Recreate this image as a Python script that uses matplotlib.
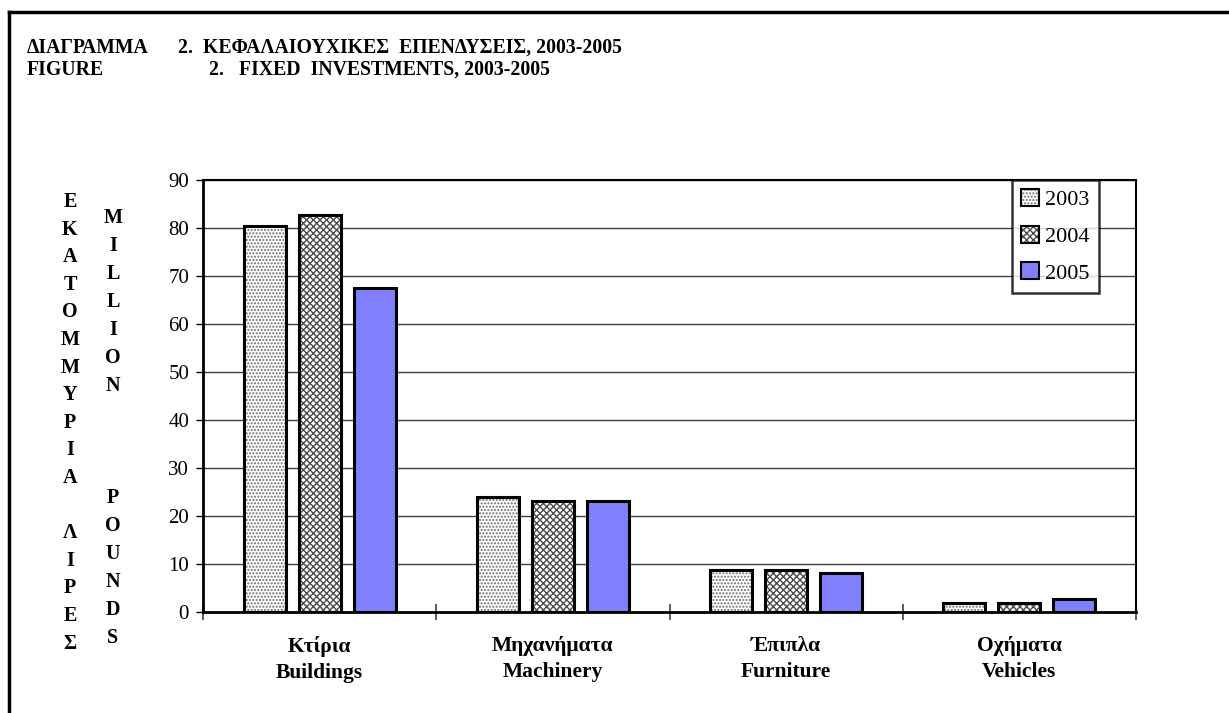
import matplotlib
matplotlib.use("Agg")
import matplotlib.pyplot as plt
import numpy as np
from matplotlib.patches import Patch
from matplotlib.lines import Line2D
from matplotlib.legend_handler import HandlerTuple

categories_gr = ["Κτίρια", "Μηχανήματα", "Έπιπλα", "Οχήματα"]
categories_en = ["Buildings", "Machinery", "Furniture", "Vehicles"]
years = ["2003", "2004", "2005"]
v2003 = [80.5, 24.0, 8.7, 1.8]
v2004 = [82.7, 23.2, 8.7, 1.9]
v2005 = [67.4, 23.2, 8.1, 2.7]
yticks = [0, 10, 20, 30, 40, 50, 60, 70, 80, 90]
ylabel_gr = "ΕΚΑΤΟΜΜΥΡΙΑ ΛΙΡΕΣ"
ylabel_en = "MILLION   POUNDS"
title_gr = ("ΔΙΑΓΡΑΜΜΑ", "2.  ΚΕΦΑΛΑΙΟΥΧΙΚΕΣ  ΕΠΕΝΔΥΣΕΙΣ, 2003-2005")
title_en = ("FIGURE", "2.   FIXED  INVESTMENTS, 2003-2005")

plt.rcParams['font.family'] = ['Liberation Serif', 'DejaVu Serif']
plt.rcParams['hatch.linewidth'] = 1.0

W, H = 1229, 713
fig = plt.figure(figsize=(W / 100, H / 100), dpi=100)

def px(x, y):
    return x / W, 1 - y / H

ax = fig.add_axes([203 / W, 1 - 612 / H, (1136 - 203) / W, (612 - 180) / H])

x = np.arange(len(categories_en))
bw = 0.18
step = 0.236
styles = [
    dict(face="white", hatch=".....", hcol="#6e6e6e"),
    dict(face="white", hatch="xxxxx", hcol="#4a4a4a"),
    dict(face="#8080ff", hatch=None, hcol="#8080ff"),
]
handles = []
for i, (vals, st) in enumerate(zip([v2003, v2004, v2005], styles)):
    pos = x + (i - 1) * step
    ax.bar(pos, vals, bw, color=st["face"], hatch=st["hatch"], edgecolor=st["hcol"],
           linewidth=0, zorder=3)
    ax.bar(pos, vals, bw, fill=False, edgecolor="black", linewidth=2.2, zorder=4)
    h1 = Patch(facecolor=st["face"], hatch=st["hatch"], edgecolor=st["hcol"], linewidth=0)
    h2 = Patch(fill=False, edgecolor="black", linewidth=1.5)
    handles.append((h1, h2))

ax.set_xlim(-0.5, len(categories_en) - 0.5)
ax.set_ylim(0, 90)
ax.set_yticks(yticks)
ax.set_yticklabels([str(t) for t in yticks], fontsize=15)
ax.yaxis.grid(True, color="#404040", linewidth=1.0, zorder=0)
ax.set_axisbelow(True)
ax.tick_params(axis="y", direction="out", length=5, width=1, pad=5)

ax.set_xticks(np.arange(-0.5, len(categories_en), 1.0))
ax.set_xticklabels([])
ax.tick_params(axis="x", which="major", direction="inout", length=12, width=1.2, color="#404040")
ax.set_xticks(x, minor=True)
ax.set_xticklabels([f"{g}\n{e}" for g, e in zip(categories_gr, categories_en)], minor=True,
                   fontsize=15.5, fontweight="bold", linespacing=1.45)
ax.tick_params(axis="x", which="minor", length=0, pad=17)

for s in ["left", "bottom"]:
    ax.spines[s].set_linewidth(2.0)
for s in ["top", "right"]:
    ax.spines[s].set_linewidth(1.5)
for s in ax.spines.values():
    s.set_color("black")

leg = ax.legend(handles, years, handler_map={tuple: HandlerTuple(ndivide=1)},
                loc="upper left", bbox_to_anchor=((1012 - 203) / (1136 - 203), 1.0),
                fontsize=16, frameon=True, fancybox=False, edgecolor="black",
                handlelength=0.8, handleheight=0.8, handletextpad=0.3,
                labelspacing=0.7, borderpad=0.4, borderaxespad=0)
leg.get_frame().set_linewidth(1.8)
leg.set_zorder(10)

# vertical axis labels, letter by letter
for k, ch in enumerate(ylabel_gr):
    if ch.strip():
        fig.text(*px(70, 202 + k * 27.6), ch, ha="center", va="center",
                 fontsize=14.5, fontweight="bold")
for k, ch in enumerate(ylabel_en):
    if ch.strip():
        fig.text(*px(113, 218 + k * 28.0), ch, ha="center", va="center",
                 fontsize=14.5, fontweight="bold")

# titles
fs_t = 14.2
fig.text(*px(27, 48), title_gr[0], ha="left", va="center", fontsize=fs_t, fontweight="bold")
fig.text(*px(178, 48), title_gr[1], ha="left", va="center", fontsize=fs_t, fontweight="bold")
fig.text(*px(27, 70), title_en[0], ha="left", va="center", fontsize=fs_t, fontweight="bold")
fig.text(*px(209, 70), title_en[1], ha="left", va="center", fontsize=fs_t, fontweight="bold")

# outer frame (left and top)
fig.add_artist(Line2D([9 / W, 9 / W], [0, 1 - 12 / H], transform=fig.transFigure,
                      color="black", linewidth=2.5))
fig.add_artist(Line2D([9 / W, 1], [1 - 12 / H, 1 - 12 / H], transform=fig.transFigure,
                      color="black", linewidth=2.5))

fig.savefig("out.png", dpi=100)
